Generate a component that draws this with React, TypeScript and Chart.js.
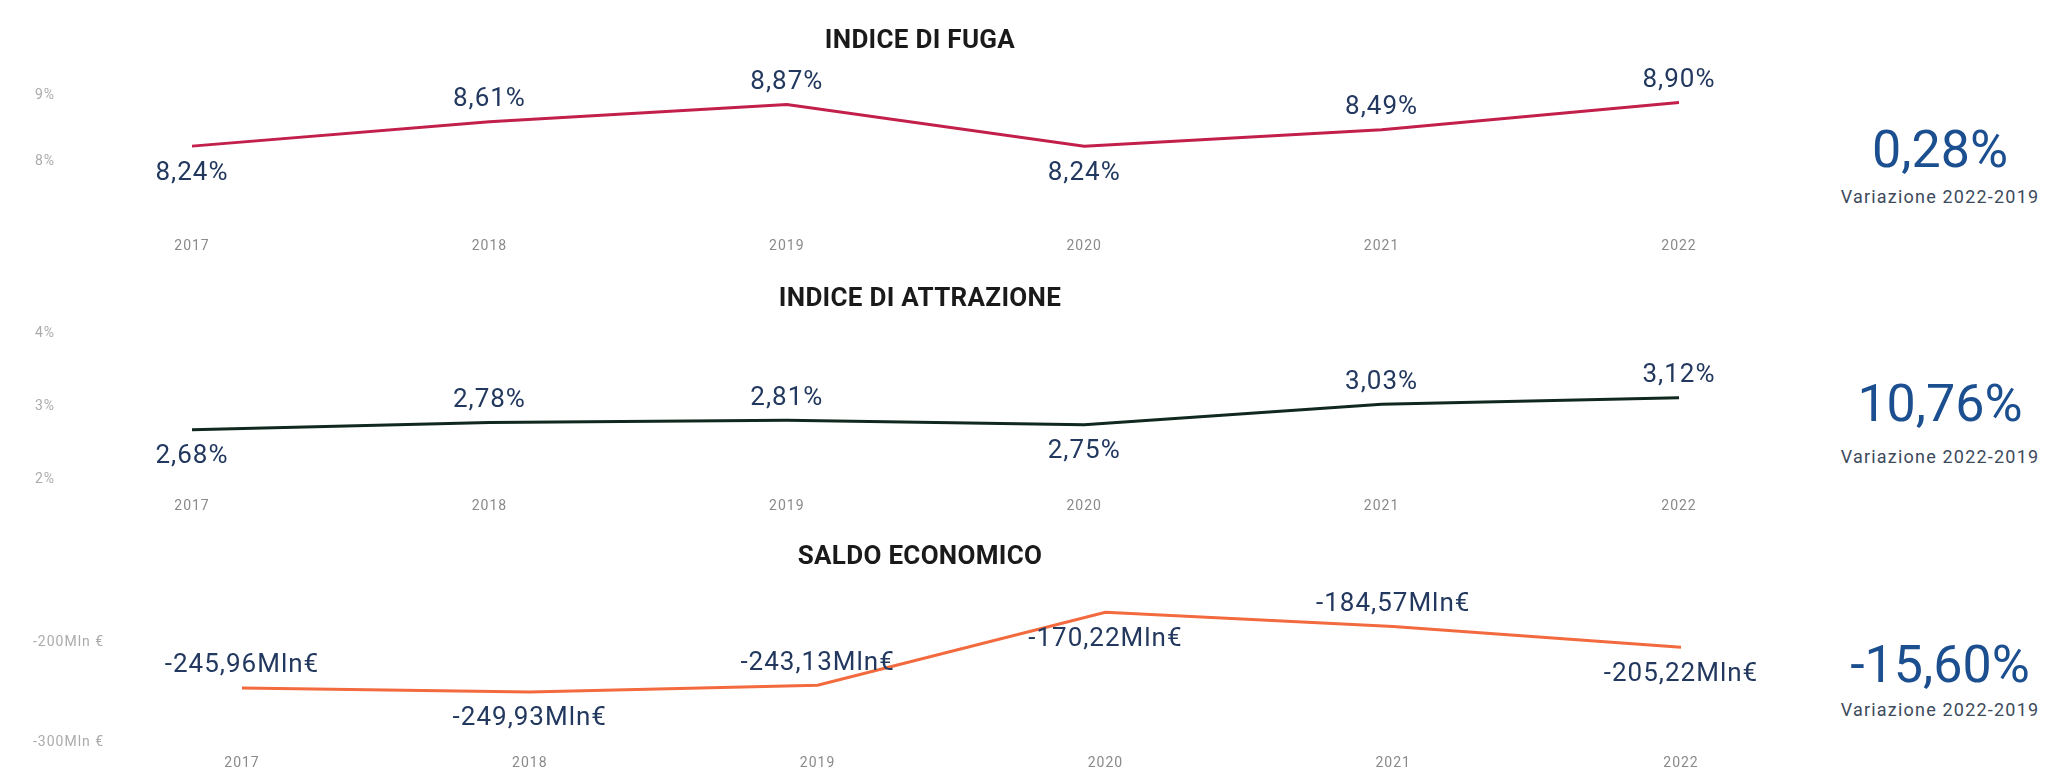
import React, { useEffect, useRef } from 'react';
import { Chart, registerables } from 'chart.js';

Chart.register(...registerables);

// ---- data ----
const years = ['2017', '2018', '2019', '2020', '2021', '2022'];
const fugaValues = [8.24, 8.61, 8.87, 8.24, 8.49, 8.9];
const attrazioneValues = [2.68, 2.78, 2.81, 2.75, 3.03, 3.12];
const saldoValues = [-245.96, -249.93, -243.13, -170.22, -184.57, -205.22];
const fugaTicks = [8, 9];
const attrazioneTicks = [2, 3, 4];
const saldoTicks = [-300, -200];
const fugaLabelSide = ['below', 'above', 'above', 'below', 'above', 'above'];
const attrazioneLabelSide = ['below', 'above', 'above', 'below', 'above', 'above'];
const saldoLabelSide = ['above', 'below', 'above', 'below', 'above', 'below'];
const titles = ['INDICE DI FUGA', 'INDICE DI ATTRAZIONE', 'SALDO ECONOMICO'];
const kpiValues = ['0,28%', '10,76%', '-15,60%'];
const kpiCaption = 'Variazione 2022-2019';

const FONT = 'Roboto, "Noto Sans", sans-serif';

const fmtPct = (v: number) => v.toFixed(2).replace('.', ',') + '%';
const fmtMln = (v: number) => v.toFixed(2).replace('.', ',') + 'Mln€';

const valueLabelPlugin = {
  id: 'valueLabels',
  afterDatasetsDraw(chart: any, _args: any, opts: any) {
    const { ctx } = chart;
    const meta = chart.getDatasetMeta(0);
    const data = chart.data.datasets[0].data;
    ctx.save();
    ctx.font = opts.font;
    ctx.fillStyle = opts.color;
    ctx.textAlign = 'center';
    ctx.textBaseline = 'middle';
    try { (ctx as any).letterSpacing = opts.letterSpacing || '0px'; } catch (e) {}
    meta.data.forEach((pt: any, i: number) => {
      const side = opts.sides[i];
      const y = side === 'above' ? pt.y - opts.above : pt.y + opts.below;
      ctx.fillText(opts.format(data[i]), pt.x, y);
    });
    ctx.restore();
  },
};

const spacingPlugin = {
  id: 'tickSpacing',
  beforeDraw(chart: any) {
    try { (chart.ctx as any).letterSpacing = '1px'; } catch (e) {}
  },
};

type Panel = {
  values: number[];
  ticks: number[];
  sides: string[];
  color: string;
  format: (v: number) => string;
  tickFormat: (v: number) => string;
  top: number;
  height: number;
  areaTop: number;
  areaBottom: number;
  areaLeft: number;
  areaRight: number;
  tickLeft: number;
  min: number;
  max: number;
  xPad: number;
};

const W = 1770;

const panels: Panel[] = [
  {
    values: fugaValues, ticks: fugaTicks, sides: fugaLabelSide, color: '#C21F4B',
    format: fmtPct, tickFormat: (v) => v + '%',
    top: 50, height: 215, areaTop: 80, areaBottom: 205, areaLeft: 192, areaRight: 1679, tickLeft: 35,
    min: 7.348, max: 9.242, xPad: 33,
  },
  {
    values: attrazioneValues, ticks: attrazioneTicks, sides: attrazioneLabelSide, color: '#10281D',
    format: fmtPct, tickFormat: (v) => v + '%',
    top: 265, height: 255, areaTop: 320, areaBottom: 488, areaLeft: 192, areaRight: 1679, tickLeft: 35,
    min: 1.876, max: 4.193, xPad: 10,
  },
  {
    values: saldoValues, ticks: saldoTicks, sides: saldoLabelSide, color: '#F26A3D',
    format: fmtMln, tickFormat: (v) => v + 'Mln €',
    top: 520, height: 255, areaTop: 580, areaBottom: 748, areaLeft: 242, areaRight: 1681, tickLeft: 33,
    min: -306, max: -138, xPad: 7,
  },
];

function LineChart({ p }: { p: Panel }) {
  const ref = useRef<HTMLCanvasElement>(null);
  useEffect(() => {
    if (!ref.current) return;
    const chart = new Chart(ref.current, {
      type: 'line',
      data: {
        labels: years,
        datasets: [
          {
            data: p.values,
            borderColor: p.color,
            borderWidth: 3,
            pointRadius: 0,
            tension: 0,
            fill: false,
          },
        ],
      },
      options: {
        animation: false,
        responsive: false,
        maintainAspectRatio: false,
        events: [],
        layout: {
          padding: {
            left: p.tickLeft,
            right: W - p.areaRight,
            top: p.areaTop - p.top,
            bottom: 0,
          },
        },
        plugins: {
          legend: { display: false },
          tooltip: { enabled: false },
          title: { display: false },
          valueLabels: {
            sides: p.sides,
            format: p.format,
            color: '#22385E',
            font: `400 26px ${FONT}`,
            letterSpacing: '1px',
            above: 22,
            below: 27,
          },
        } as any,
        scales: {
          x: {
            type: 'category',
            offset: false,
            grid: { display: false, drawTicks: false },
            border: { display: false },
            ticks: {
              color: '#8A8A8A',
              font: { family: FONT, size: 14 },
              padding: p.xPad,
              maxRotation: 0,
              autoSkip: false,
            },
            afterFit: (scale: any) => {
              scale.height = p.top + p.height - p.areaBottom;
            },
          },
          y: {
            min: p.min,
            max: p.max,
            grid: { display: false, drawTicks: false },
            border: { display: false },
            ticks: {
              color: '#ABABAB',
              font: { family: FONT, size: 14 },
              crossAlign: 'far',
              callback: (v: any) => p.tickFormat(Number(v)),
            },
            afterBuildTicks: (scale: any) => {
              scale.ticks = p.ticks.map((v) => ({ value: v }));
            },
            afterFit: (scale: any) => {
              scale.width = p.areaLeft - p.tickLeft;
            },
          },
        },
      },
      plugins: [spacingPlugin, valueLabelPlugin],
    });
    return () => chart.destroy();
  }, []);
  return (
    <canvas
      ref={ref}
      width={W}
      height={p.height}
      style={{ position: 'absolute', left: 0, top: p.top, width: W, height: p.height }}
    />
  );
}

const titleY = [39, 297, 555];
const kpiY = [150, 404, 665];
const captionY = [197, 457, 710];

export default function App() {
  return (
    <div
      style={{
        position: 'absolute',
        left: 0,
        top: 0,
        width: 2054,
        height: 775,
        background: '#ffffff',
        overflow: 'hidden',
        fontFamily: FONT,
      }}
    >
      {panels.map((p, i) => (
        <LineChart key={'c' + i} p={p} />
      ))}
      {titles.map((t, i) => (
        <div
          key={'t' + i}
          style={{
            position: 'absolute',
            left: 0,
            width: 1840,
            top: titleY[i] - 15,
            height: 30,
            lineHeight: '30px',
            textAlign: 'center',
            fontWeight: 700,
            fontSize: 26,
            color: '#1A1A1A',
            letterSpacing: '0.3px',
          }}
        >
          {t}
        </div>
      ))}
      {kpiValues.map((k, i) => (
        <div
          key={'k' + i}
          style={{
            position: 'absolute',
            left: 1800,
            width: 280,
            top: kpiY[i] - 32,
            height: 64,
            lineHeight: '64px',
            textAlign: 'center',
            fontSize: 52,
            color: '#1C4F8F',
          }}
        >
          {k}
        </div>
      ))}
      {kpiValues.map((_k, i) => (
        <div
          key={'v' + i}
          style={{
            position: 'absolute',
            left: 1800,
            width: 280,
            top: captionY[i] - 11,
            height: 22,
            lineHeight: '22px',
            textAlign: 'center',
            fontSize: 18,
            color: '#3C4A5C',
            letterSpacing: '1.2px',
          }}
        >
          {kpiCaption}
        </div>
      ))}
    </div>
  );
}
